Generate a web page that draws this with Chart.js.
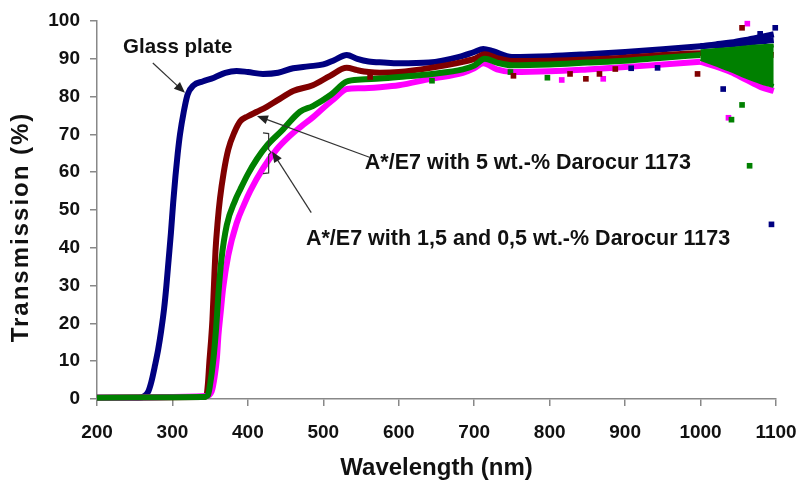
<!DOCTYPE html>
<html>
<head>
<meta charset="utf-8">
<script src="https://cdn.jsdelivr.net/npm/chart.js@4.4.0/dist/chart.umd.min.js"></script>
<style>
  html, body { margin: 0; padding: 0; background: #fff; }
</style>
</head>
<body>
<canvas id="myChart" width="801" height="483"></canvas>
<script>
// wavelength (nm) / transmission (%)
const glassWl = [200,255,263,268,272,277,281,285,289,292,295,298,301,304,307,310,315,320,328,340,355,370,385,400,420,440,460,480,500,515,531,545,560,580,600,640,680,700,712,725,750,800,850,900,950,1000,1050,1097];
const glassT  = [0.3,0.3,0.8,2,4.5,9,13,18,24,30,37,44,52,59,65,70,76,80.5,83,84,85,86.3,86.8,86.5,86,86.3,87.5,88,88.5,89.7,91,90,89.3,89,88.8,89,90.5,91.8,92.6,92,90.5,90.7,91.2,91.8,92.5,93.3,94,95];

const redWl = [200,340,345,347,349,351,353,355,357,360,363,368,374,382,390,400,412,425,439,460,486,509,531,545,560,575,600,642,685,700,714,730,752,800,850,900,950,1000,1050,1097];
const redT  = [0.3,0.5,1,4,10,15,21,30,39,47,53,60,66,70.5,73.5,74.8,76,77.3,79,81.5,83,85.5,87.6,87,86.5,86.3,86.5,87.6,89.2,90,91.2,90.2,89.4,89.5,89.8,90.3,91,91.5,91.5,91];

const greenWl = [200,340,347,350,354,358,361,365,372,383,390,400,412,425,445,469,486,510,531,550,575,600,644,685,700,714,730,750,800,850,900,950,1000];
const greenT  = [0.3,0.5,1,4,10,19,28,37,46,52.5,55.5,59.5,63.5,67,71,76,77.5,80.5,84,84.5,84.8,85.2,86,87.2,88.2,90,89,88.3,88.5,89,89.5,90.3,91];

const magWl = [200,345,352,356,359,361,364,367,374,385,395,403,420,438,455,470,486,500,515,531,550,575,600,642,685,700,712,730,752,800,850,900,950,1000];
const magT  = [0.3,0.8,2,6,11,17,23,29,38,46.5,51.5,55,61,66,69.5,72,74.5,77,79.5,82,82.2,82.5,83,84.7,86.3,87.5,88.8,87.2,86.5,86.7,87.2,87.8,88.5,89.2];

// noisy tail above 1000 nm
const tailWl       = [1000,1020,1040,1060,1080,1097];
const glassTail    = [93.3,93.8,94.3,95,95.8,96.5];
const greenTailTop = [92,92.3,92.6,93,93.3,93.5];
const greenTailBot = [90,88.5,87,85.3,83.8,82.8];
const magTailBot   = [89.2,88,86.5,84.5,82.5,81.5];

// stray points
const glassOutWl = [908,943,1030,1079,1094,1099];
const glassOutT  = [87.5,87.6,82,96.6,46.2,98.2];
const redOutWl = [562,752,827,848,866,887,996,1055];
const redOutT  = [85.2,85.5,86,84.7,86,87.3,86,98.2];
const greenOutWl = [644,748,797,1041,1055,1065];
const greenOutT  = [84.2,86.5,85,73.9,77.8,61.7];
const magOutWl = [816,871,1037,1062];
const magOutT  = [84.4,84.7,74.4,99.3];

const xTicks = [200,300,400,500,600,700,800,900,1000,1100];
const yTicks = [0,10,20,30,40,50,60,70,80,90,100];

const BLUE = '#000080', RED = '#800000', GREEN = '#008000', MAG = '#ff00ff';
const FONT = "'Liberation Sans', Arial, sans-serif";

function pts(xs, ys) {
    return xs.map((x, i) => ({ x: x, y: ys[i] }));
}

function curve(label, xs, ys, color, order, extra) {
    return Object.assign({
        label: label,
        data: pts(xs, ys),
        borderColor: color,
        backgroundColor: color,
        borderWidth: 6,
        pointRadius: 0,
        cubicInterpolationMode: 'monotone',
        clip: 8,
        fill: false,
        order: order
    }, extra || {});
}

function dots(label, xs, ys, color) {
    return {
        label: label,
        data: pts(xs, ys),
        showLine: false,
        pointStyle: 'rect',
        pointRadius: 4,
        borderWidth: 0,
        backgroundColor: color,
        clip: 8,
        order: 0
    };
}

// annotation text and arrows, in data units
const notes = {
    glass: { text: 'Glass plate', x: 307, y: 92.9, from: [274, 88.9], to: [316.6, 81.0] },
    five:  { text: 'A*/E7 with 5 wt.-% Darocur 1173', x: 555, y: 62.3, from: [562, 63.9], to: [412, 74.9] },
    low:   { text: 'A*/E7 with 1,5 and 0,5 wt.-% Darocur 1173', x: 477, y: 42.2, from: [484, 49.3], to: [432, 65.5] }
};

function arrow(ctx, x1, y1, x2, y2) {
    const ang = Math.atan2(y2 - y1, x2 - x1);
    ctx.beginPath();
    ctx.moveTo(x1, y1);
    ctx.lineTo(x2 - 8 * Math.cos(ang), y2 - 8 * Math.sin(ang));
    ctx.stroke();
    ctx.beginPath();
    ctx.moveTo(x2, y2);
    ctx.lineTo(x2 - 11 * Math.cos(ang) + 4.5 * Math.sin(ang), y2 - 11 * Math.sin(ang) - 4.5 * Math.cos(ang));
    ctx.lineTo(x2 - 11 * Math.cos(ang) - 4.5 * Math.sin(ang), y2 - 11 * Math.sin(ang) + 4.5 * Math.cos(ang));
    ctx.closePath();
    ctx.fill();
}

const notesPlugin = {
    id: 'notes',
    afterDatasetsDraw(chart) {
        const ctx = chart.ctx;
        const sx = chart.scales.x, sy = chart.scales.y;
        const X = v => sx.getPixelForValue(v);
        const Y = v => sy.getPixelForValue(v);
        ctx.save();
        ctx.fillStyle = '#111';
        ctx.strokeStyle = '#333';
        ctx.lineWidth = 1.2;
        ctx.textBaseline = 'middle';

        ctx.font = 'bold 20.5px ' + FONT;
        ctx.textAlign = 'center';
        ctx.fillText(notes.glass.text, X(notes.glass.x), Y(notes.glass.y));
        ctx.font = 'bold 21.5px ' + FONT;
        ctx.textAlign = 'left';
        ctx.fillText(notes.five.text, X(notes.five.x), Y(notes.five.y));
        ctx.fillText(notes.low.text, X(notes.low.x), Y(notes.low.y));

        ctx.fillStyle = '#222';
        [notes.glass, notes.five, notes.low].forEach(n => {
            arrow(ctx, X(n.from[0]), Y(n.from[1]), X(n.to[0]), Y(n.to[1]));
        });

        // small brace grouping the two lower curves
        ctx.beginPath();
        ctx.moveTo(X(420), Y(70.4));
        ctx.lineTo(X(427.5), Y(70.2));
        ctx.lineTo(X(427.5), Y(66));
        ctx.lineTo(X(430.5), Y(65.3));
        ctx.lineTo(X(427.5), Y(64.6));
        ctx.lineTo(X(427.5), Y(59.8));
        ctx.lineTo(X(420), Y(59.6));
        ctx.stroke();

        // y axis title, drawn by hand to get the wide letter spacing
        const ca = chart.chartArea;
        ctx.translate(21, (ca.top + ca.bottom) / 2 + 17);
        ctx.rotate(-Math.PI / 2);
        ctx.fillStyle = '#111';
        ctx.font = 'bold 24px ' + FONT;
        ctx.letterSpacing = '2px';
        ctx.textAlign = 'center';
        ctx.fillText('Transmission (%)', 0, 0);
        ctx.restore();
    }
};

const myChart = new Chart(document.getElementById('myChart'), {
    type: 'line',
    data: {
        datasets: [
            dots('glass pts', glassOutWl, glassOutT, BLUE),
            dots('5 pts', redOutWl, redOutT, RED),
            dots('1,5 pts', greenOutWl, greenOutT, GREEN),
            dots('0,5 pts', magOutWl, magOutT, MAG),
            curve('green tail top', tailWl, greenTailTop, GREEN, 1, { borderWidth: 4, fill: '+1', backgroundColor: GREEN }),
            curve('green tail bottom', tailWl, greenTailBot, GREEN, 1, { borderWidth: 4 }),
            curve('A*/E7 1,5 wt.-%', greenWl, greenT, GREEN, 1),
            curve('magenta tail', tailWl, magTailBot, MAG, 2),
            curve('A*/E7 0,5 wt.-%', magWl, magT, MAG, 2),
            curve('A*/E7 5 wt.-%', redWl, redT, RED, 3),
            curve('glass tail', tailWl, glassTail, BLUE, 4),
            curve('Glass plate', glassWl, glassT, BLUE, 4)
        ]
    },
    options: {
        responsive: false,
        animation: false,
        events: [],
        layout: { padding: { top: 21, right: 25, bottom: 0, left: 0 } },
        plugins: {
            legend: { display: false },
            tooltip: { enabled: false }
        },
        scales: {
            x: {
                type: 'linear',
                min: 200,
                max: 1100,
                afterBuildTicks: s => { s.ticks = xTicks.map(v => ({ value: v })); },
                afterFit: s => { s.height = 84; s.paddingLeft = 0; s.paddingRight = 0; },
                grid: { display: true, drawOnChartArea: false, drawTicks: true, tickLength: 7, color: '#888', lineWidth: 1.5 },
                border: { display: true, color: '#888', width: 1.5 },
                ticks: { color: '#111', padding: 15, maxRotation: 0, callback: v => String(v), font: { family: FONT, size: 19, weight: 'bold' } },
                title: { display: true, text: 'Wavelength (nm)', color: '#111', padding: { top: 0, bottom: 0 }, font: { family: FONT, size: 24, weight: 'bold' } }
            },
            y: {
                min: 0,
                max: 100,
                afterBuildTicks: s => { s.ticks = yTicks.map(v => ({ value: v })); },
                afterFit: s => { s.width = 97; s.paddingTop = 0; s.paddingBottom = 0; },
                grid: { display: true, drawOnChartArea: false, drawTicks: true, tickLength: 7, color: '#888', lineWidth: 1.5 },
                border: { display: true, color: '#888', width: 1.5 },
                ticks: { color: '#111', padding: 10, callback: v => String(v), font: { family: FONT, size: 19, weight: 'bold' } },
                title: { display: false }
            }
        }
    },
    plugins: [notesPlugin]
});
</script>
</body>
</html>
